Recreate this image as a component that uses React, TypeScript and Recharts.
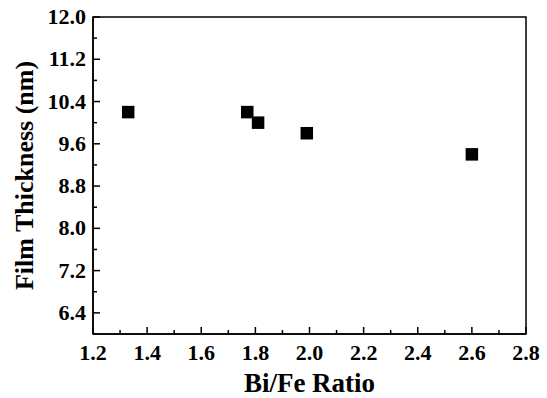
import React from 'react';
import { ScatterChart, Scatter, XAxis, YAxis, ReferenceArea } from 'recharts';

// Bi/Fe ratio vs film thickness
const ratios = [1.33, 1.77, 1.81, 1.99, 2.6];
const thickness = [10.2, 10.2, 10.0, 9.8, 9.4];

const xMajor = [1.2, 1.4, 1.6, 1.8, 2.0, 2.2, 2.4, 2.6, 2.8];
const xMinor = [1.3, 1.5, 1.7, 1.9, 2.1, 2.3, 2.5, 2.7];
const yMajor = [6.4, 7.2, 8.0, 8.8, 9.6, 10.4, 11.2, 12.0];
const yMinor = [6.0, 6.8, 7.6, 8.4, 9.2, 10.0, 10.8, 11.6];

const data = ratios.map((r, i) => ({ ratio: r, thickness: thickness[i] }));

const FONT = '"Liberation Serif", "Times New Roman", serif';
const MARGIN = 8;

const isMajor = (list: number[], v: number) => list.some(m => Math.abs(m - v) < 1e-6);

const XTick = (props: any) => {
    const { x, y, payload } = props;
    const axisY = y - MARGIN;
    const major = isMajor(xMajor, payload.value);
    return (
        <g>
            <line x1={x} x2={x} y1={axisY} y2={axisY - (major ? 7 : 4)} stroke="#000" strokeWidth={1.5} />
            {major && (
                <text x={x} y={y + 18} textAnchor="middle" fontFamily={FONT} fontWeight="bold" fontSize={22} fill="#000">
                    {payload.value.toFixed(1)}
                </text>
            )}
        </g>
    );
};

const YTick = (props: any) => {
    const { x, y, payload } = props;
    const axisX = x + MARGIN;
    const major = isMajor(yMajor, payload.value);
    return (
        <g>
            <line x1={axisX} x2={axisX + (major ? 7 : 4)} y1={y} y2={y} stroke="#000" strokeWidth={1.5} />
            {major && (
                <text x={x + 1} y={y} dy={7} textAnchor="end" fontFamily={FONT} fontWeight="bold" fontSize={22} fill="#000">
                    {payload.value.toFixed(1)}
                </text>
            )}
        </g>
    );
};

const SquareDot = (props: any) => {
    const { cx, cy } = props;
    const s = 12.5;
    return <rect x={cx - s / 2} y={cy - s / 2} width={s} height={s} fill="#000" />;
};

export default function App() {
    return (
        <div style={{ position: 'absolute', left: 0, top: 0, background: '#fff' }}>
            <ScatterChart width={547} height={398} margin={{ top: 17, right: 21, left: 0, bottom: 4 }}>
                <XAxis
                    type="number"
                    dataKey="ratio"
                    domain={[1.2, 2.8]}
                    ticks={[...xMajor, ...xMinor].sort((a, b) => a - b)}
                    interval={0}
                    height={60}
                    tickSize={0}
                    tickMargin={MARGIN}
                    tick={<XTick />}
                    axisLine={{ stroke: '#000', strokeWidth: 1.5 }}
                    label={{ value: 'Bi/Fe Ratio', position: 'insideBottom', offset: 2, fontFamily: FONT, fontWeight: 'bold', fontSize: 27, fill: '#000' }}
                />
                <YAxis
                    type="number"
                    dataKey="thickness"
                    domain={[6.0, 12.0]}
                    ticks={[...yMajor, ...yMinor].sort((a, b) => a - b)}
                    interval={0}
                    width={93}
                    tickSize={0}
                    tickMargin={MARGIN}
                    tick={<YTick />}
                    axisLine={{ stroke: '#000', strokeWidth: 1.5 }}
                    label={{ value: 'Film Thickness (nm)', angle: -90, position: 'insideLeft', offset: 24, fontFamily: FONT, fontWeight: 'bold', fontSize: 26, fill: '#000', style: { textAnchor: 'middle' } }}
                />
                <ReferenceArea x1={1.2} x2={2.8} y1={6.0} y2={12.0} fill="none" stroke="#000" strokeWidth={1.5} ifOverflow="visible" />
                <Scatter data={data} shape={<SquareDot />} isAnimationActive={false} />
            </ScatterChart>
        </div>
    );
}
